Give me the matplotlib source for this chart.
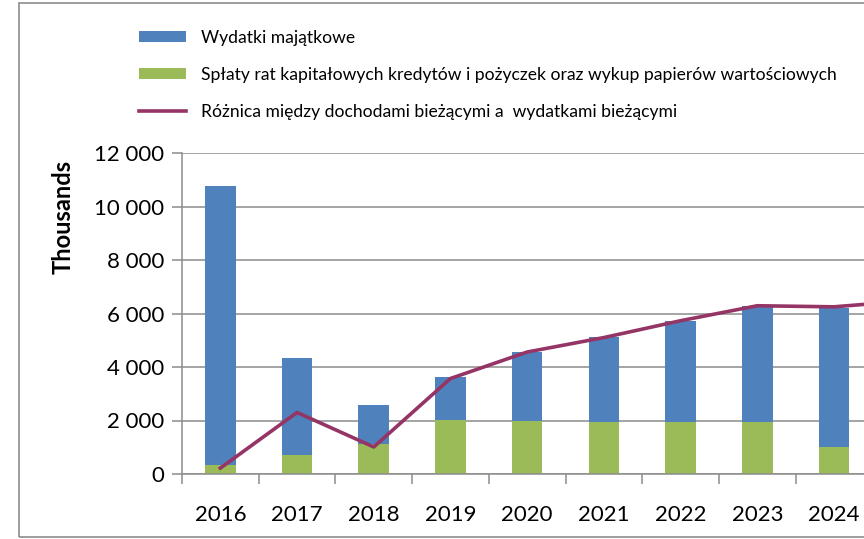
import numpy as np
import matplotlib
matplotlib.use("Agg")
import matplotlib.pyplot as plt
from matplotlib.patches import Rectangle
from matplotlib.ticker import FuncFormatter, FixedLocator

# ── Data (thousands) ──
years = ["2016", "2017", "2018", "2019", "2020", "2021", "2022", "2023", "2024", "2025"]
splaty = [340, 710, 1120, 2020, 1980, 1950, 1950, 1950, 1000, 1000]
wydatki_total = [10770, 4340, 2580, 3630, 4560, 5120, 5720, 6280, 6200, 6400]
roznica = [220, 2300, 1010, 3570, 4560, 5100, 5730, 6290, 6250, 6480]
wydatki = [t - s for t, s in zip(wydatki_total, splaty)]

BLUE = "#4F81BD"
GREEN = "#9BBB59"
PURPLE = "#953566"
GRID = "#8C8C8C"

plt.rcParams["font.family"] = ["Lato", "DejaVu Sans"]

fig = plt.figure(figsize=(8.64, 5.39), dpi=100)

# chart is cropped on the right – axes run past the figure edge
ax = fig.add_axes([182 / 864, (539 - 474) / 539, 767 / 864, (474 - 153) / 539])

x = np.arange(len(years))
b_green = ax.bar(x, splaty, width=0.4, color=GREEN, zorder=2)
b_blue = ax.bar(x, wydatki, width=0.4, bottom=splaty, color=BLUE, zorder=2)
ln, = ax.plot(x, roznica, color=PURPLE, lw=2.6, zorder=3, solid_joinstyle="round")

ax.set_xlim(-0.5, len(years) - 0.5)
ax.set_ylim(0, 12000)
ax.set_yticks(np.arange(0, 12001, 2000))
ax.yaxis.set_major_formatter(FuncFormatter(lambda v, _: f"{int(v):,}".replace(",", " ")))
ax.grid(axis="y", color=GRID, lw=1.1, zorder=0)
ax.set_axisbelow(True)

ax.set_xticks(x)
ax.set_xticklabels(years)
ax.xaxis.set_minor_locator(FixedLocator(np.arange(-0.5, len(years), 1.0)))
ax.tick_params(axis="x", which="major", length=0, pad=22, labelsize=16)
ax.tick_params(axis="x", which="minor", length=7, width=1.1, color=GRID)
ax.tick_params(axis="y", length=7, width=1.1, color=GRID, labelsize=16, pad=6)

for side in ["top", "right"]:
    ax.spines[side].set_visible(False)
for side in ["left", "bottom"]:
    ax.spines[side].set_color(GRID)
    ax.spines[side].set_linewidth(1.1)

ax.set_ylabel("Thousands", fontsize=17, fontweight="bold")
ax.yaxis.set_label_coords(-0.140, 0.80)

fig.legend([b_blue, b_green, ln],
           ["Wydatki majątkowe",
            "Spłaty rat kapitałowych kredytów i pożyczek oraz wykup papierów wartościowych",
            "Różnica między dochodami bieżącymi a  wydatkami bieżącymi"],
           loc="upper left", bbox_to_anchor=(123 / 864, 1 - 14 / 539),
           frameon=False, fontsize=12.6, handlelength=2.7, handleheight=0.62,
           handletextpad=0.85, labelspacing=1.2)

# outer chart border (right edge cropped)
fig.patches.append(Rectangle((19 / 864, 2 / 539), 1.2, 534 / 539, transform=fig.transFigure,
                             fill=False, edgecolor="#8C8C8C", lw=1.2))

fig.savefig("out.png", dpi=100)
